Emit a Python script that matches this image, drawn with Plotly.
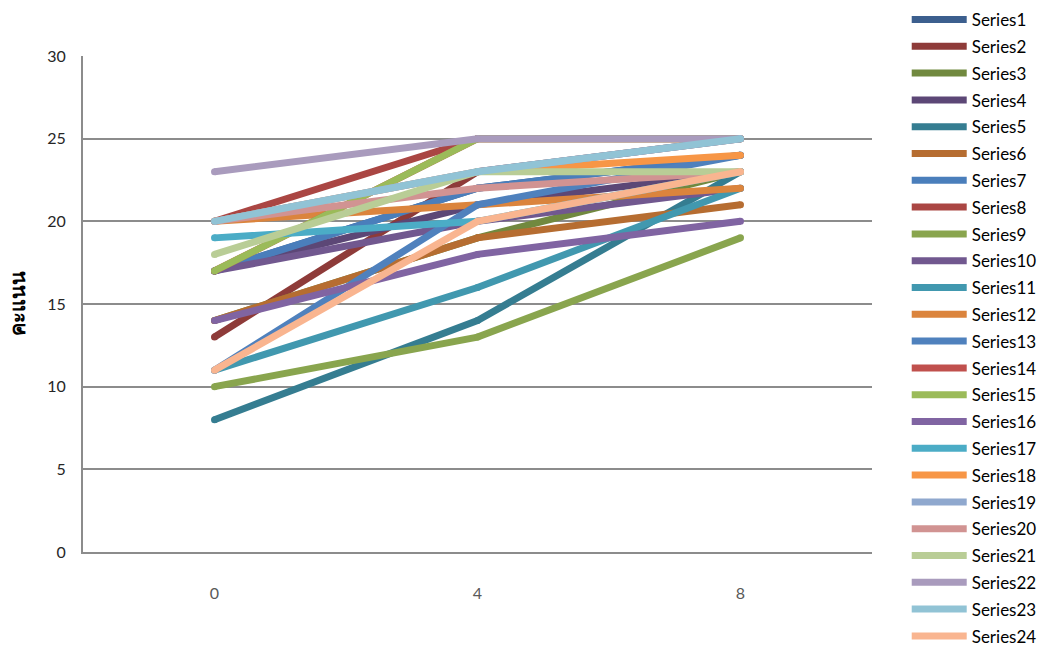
import plotly.graph_objects as go

# Test sessions on the category axis
sessions = ["0", "4", "8"]

# Scores per series at sessions 0, 4 and 8
series_names = [f"Series{i}" for i in range(1, 25)]
scores = [
    [17, 22, 24],   # Series1
    [13, 23, 25],   # Series2
    [14, 19, 23],   # Series3
    [17, 21, 23],   # Series4
    [8, 14, 23],    # Series5
    [14, 19, 21],   # Series6
    [17, 22, 24],   # Series7
    [20, 25, 25],   # Series8
    [10, 13, 19],   # Series9
    [17, 20, 22],   # Series10
    [11, 16, 22],   # Series11
    [20, 21, 22],   # Series12
    [11, 21, 24],   # Series13
    [17, 25, 25],   # Series14
    [17, 25, 25],   # Series15
    [14, 18, 20],   # Series16
    [19, 20, 23],   # Series17
    [20, 23, 24],   # Series18
    [20, 23, 25],   # Series19
    [20, 22, 23],   # Series20
    [18, 23, 23],   # Series21
    [23, 25, 25],   # Series22
    [20, 23, 25],   # Series23
    [11, 20, 23],   # Series24
]
colors = [
    "#3C5F8E", "#8E3B39", "#71893F", "#5C4776", "#357D91", "#B66D31",
    "#4A7EBB", "#AA4643", "#89A54E", "#71588F", "#4198AF", "#DB843D",
    "#4F81BD", "#C0504D", "#9BBB59", "#8064A2", "#4BACC6", "#F79646",
    "#8FA8CE", "#D19392", "#B9CD96", "#A99BBD", "#91C3D5", "#F9B590",
]

y_ticks = [0, 5, 10, 15, 20, 25, 30]

fig = go.Figure()
for name, vals, col in zip(series_names, scores, colors):
    # thick line shown in the legend
    fig.add_trace(go.Scatter(
        x=sessions, y=vals, name=name, mode="lines",
        line=dict(color=col, width=7),
        legendgroup=name,
    ))
    # round dots at the vertices give the rounded line ends
    fig.add_trace(go.Scatter(
        x=sessions, y=vals, mode="markers", showlegend=False,
        marker=dict(color=col, size=7, line=dict(width=0)),
        legendgroup=name, hoverinfo="skip",
    ))

fig.update_layout(
    width=1037, height=645,
    margin=dict(l=83, r=165, t=56, b=93, autoexpand=False),
    paper_bgcolor="white", plot_bgcolor="white",
    font=dict(family="Lato, 'Noto Sans', sans-serif", color="#404040"),
    showlegend=True,
    legend=dict(
        x=1.044, xanchor="left", y=1.109, yanchor="top",
        font=dict(size=17, color="#000000"),
        itemwidth=55, tracegroupgap=1.7, maxheight=1,
        bgcolor="rgba(0,0,0,0)",
    ),
)
fig.update_xaxes(
    type="category", range=[-0.5, 2.5],
    showgrid=False, showline=True, linecolor="#8C8C8C", linewidth=2,
    ticks="", tickfont=dict(size=16, color="#595959"),
    ticklabelstandoff=26,
)
fig.update_yaxes(
    range=[0, 30], tickvals=y_ticks,
    showgrid=True, gridcolor="#8C8C8C", gridwidth=2,
    showline=True, linecolor="#8C8C8C", linewidth=2,
    zeroline=False, ticks="",
    tickfont=dict(size=16, color="#262626"),
    ticklabelstandoff=12,
    title=dict(text="<b>คะแนน</b>", font=dict(size=20, color="#000000"), standoff=16),
)

fig.write_html("out.html")
